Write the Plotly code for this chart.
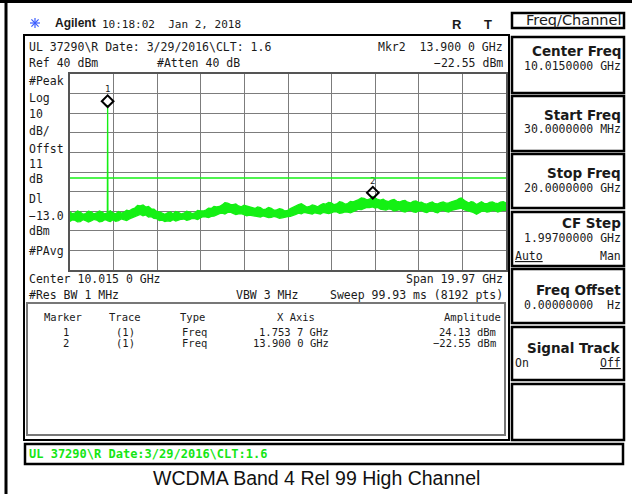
import plotly.graph_objects as go

# sweep points (GHz) with the upper / lower edge of the green noise band (dBm)
freq_ghz = [0.03, 0.125, 0.25, 0.375, 0.5, 0.625, 0.75, 0.875, 1.0, 1.125, 1.25, 1.375, 1.5, 1.625,
            1.74, 1.7537, 1.767, 1.875, 2.0, 2.125, 2.25, 2.375, 2.5, 2.625, 2.75, 2.875,
            3.0, 3.125, 3.25, 3.375, 3.5, 3.625, 3.75, 3.875, 4.0, 4.125, 4.25, 4.375, 4.5,
            4.625, 4.75, 4.875, 5.0, 5.125, 5.25, 5.375, 5.5, 5.625, 5.75, 5.875, 6.0, 6.125,
            6.25, 6.375, 6.5, 6.625, 6.75, 6.875, 7.0, 7.125, 7.25, 7.375, 7.5, 7.625, 7.75,
            7.875, 8.0, 8.125, 8.25, 8.375, 8.5, 8.625, 8.75, 8.875, 9.0, 9.125, 9.25, 9.375,
            9.5, 9.625, 9.75, 9.875, 10.0, 10.125, 10.25, 10.375, 10.5, 10.625, 10.75, 10.875,
            11.0, 11.125, 11.25, 11.375, 11.5, 11.625, 11.75, 11.875, 12.0, 12.125, 12.25,
            12.375, 12.5, 12.625, 12.75, 12.875, 13.0, 13.125, 13.25, 13.375, 13.5, 13.625,
            13.75, 13.9, 14.0, 14.125, 14.25, 14.375, 14.5, 14.625, 14.75, 14.875, 15.0,
            15.125, 15.25, 15.375, 15.5, 15.625, 15.75, 15.875, 16.0, 16.125, 16.25, 16.375,
            16.5, 16.625, 16.75, 16.875, 17.0, 17.125, 17.25, 17.375, 17.5, 17.625, 17.75,
            17.85, 17.95, 18.1, 18.2, 18.3, 18.4, 18.5, 18.65, 18.8, 18.875, 19.0, 19.125,
            19.25, 19.375, 19.5, 19.625, 19.75, 19.875, 20.0]
trace_upper = [-30.2, -31.3, -31.0, -29.9, -30.4, -31.5, -31.2, -30.0, -30.3, -31.4, -30.9, -29.9,
               -30.5, -31.4, -30.8, 24.13, -30.6, -29.8, -30.9, -31.3, -30.2, -31.0, -30.6, -29.5,
               -29.8, -28.9, -28.4, -27.1, -27.3, -26.8, -27.9, -27.6, -28.8, -29.0, -30.1, -30.4,
               -31.2, -31.6, -30.8, -30.4, -31.3, -30.2, -30.6, -31.4, -31.0, -30.0, -30.4, -31.2,
               -30.8, -29.6, -29.8, -29.9, -29.4, -28.5, -28.6, -27.6, -27.8, -27.6, -26.8, -25.6,
               -25.9, -26.5, -26.6, -26.3, -27.3, -27.8, -27.0, -27.4, -27.9, -28.3, -28.6, -27.8,
               -28.2, -29.2, -28.9, -28.1, -28.5, -29.5, -29.3, -28.7, -29.0, -29.9, -29.6, -28.7,
               -28.0, -27.0, -26.6, -26.2, -27.0, -27.9, -27.6, -26.8, -27.2, -27.8, -26.9, -26.2,
               -26.4, -25.5, -25.8, -26.7, -26.3, -25.2, -25.5, -26.4, -26.1, -25.0, -25.2, -24.7,
               -24.1, -23.2, -23.5, -24.2, -23.9, -22.55, -23.4, -24.0, -24.4, -23.9, -24.8, -25.1,
               -24.3, -24.0, -25.0, -25.3, -24.7, -24.5, -25.4, -25.8, -25.0, -24.8, -25.6, -25.4,
               -26.1, -26.4, -25.7, -25.3, -26.2, -26.3, -25.6, -25.3, -25.9, -25.8, -25.2, -24.9,
               -24.4, -23.6, -23.3, -24.6, -25.4, -25.8, -25.1, -25.4, -26.6, -25.7, -25.2, -26.0,
               -26.2, -25.5, -25.3, -25.9, -26.1, -25.4, -25.2, -25.8]
trace_lower = [-35.2, -34.5, -34.6, -35.4, -35.3, -34.3, -34.8, -35.5, -35.0, -34.2, -34.5, -35.4,
               -35.2, -34.3, -34.7, -34.7, -34.9, -35.3, -34.4, -35.1, -34.8, -33.9, -34.2, -34.8,
               -33.9, -33.4, -32.6, -32.4, -31.6, -32.3, -31.9, -33.0, -32.8, -33.7, -33.8, -34.8,
               -34.6, -35.3, -34.9, -35.1, -34.3, -35.0, -34.5, -34.1, -34.0, -34.7, -34.3, -33.7,
               -33.8, -34.3, -33.4, -32.8, -32.9, -33.3, -32.6, -32.5, -31.9, -31.2, -31.0, -31.4,
               -30.6, -30.5, -31.1, -31.7, -31.4, -31.2, -31.8, -32.4, -32.0, -32.2, -32.6, -32.9,
               -33.0, -32.4, -32.7, -33.3, -33.1, -32.6, -33.0, -33.6, -33.4, -32.9, -32.8, -32.6,
               -31.9, -31.6, -31.0, -31.3, -30.6, -31.0, -31.2, -31.5, -30.8, -31.0, -31.4, -30.6,
               -31.0, -31.2, -30.8, -30.2, -30.4, -31.1, -30.9, -30.3, -30.5, -30.8, -30.2, -29.6,
               -29.0, -29.2, -28.6, -28.1, -28.2, -27.8, -28.4, -28.1, -29.0, -29.3, -29.4, -28.8,
               -29.1, -29.9, -29.6, -29.2, -30.1, -30.4, -29.8, -29.5, -30.3, -30.6, -29.9, -29.6,
               -30.4, -30.7, -30.0, -29.7, -30.5, -30.8, -29.8, -29.5, -30.1, -30.4, -29.6, -29.2,
               -28.9, -28.8, -28.4, -29.3, -29.6, -30.2, -30.4, -30.6, -31.5, -30.4, -30.1, -29.8,
               -30.5, -30.2, -29.6, -29.7, -30.4, -30.0, -29.5, -29.6]

marker_labels = ['1', '2']
marker_freq_ghz = [1.7537, 13.9]
marker_amp_dbm = [24.13, -22.55]
display_line_dbm = -13.0

start_ghz = 0.03
stop_ghz = 20.0
ref_dbm = 40
db_div = 10

assert len(freq_ghz) == len(trace_upper) == len(trace_lower)

GREEN = '#14F014'
MONO = 'DejaVu Sans Mono'
SANS = 'Liberation Sans, Arial'
INK = '#1a1a1a'

# plot box in screen pixels
L, R, T, B = 70, 506, 74, 270


def px(x):
    return (x - L) / (R - L)


def py(y):
    return (B - y) / (B - T)


fig = go.Figure()

fig.add_trace(go.Scatter(x=freq_ghz, y=trace_lower, mode='lines',
                         line=dict(color=GREEN, width=1.3), hoverinfo='skip'))
fig.add_trace(go.Scatter(x=freq_ghz, y=trace_upper, mode='lines',
                         line=dict(color=GREEN, width=1.3), fill='tonexty',
                         fillcolor=GREEN, hoverinfo='skip'))

# marker diamonds sit a little above the point, like on the analyser
fig.add_trace(go.Scatter(x=marker_freq_ghz, y=[a + 2 for a in marker_amp_dbm],
                         mode='markers+text', text=marker_labels, textposition='top center',
                         textfont=dict(family=MONO, size=9, color=INK),
                         marker=dict(symbol='diamond-open', size=9, color='black',
                                     line=dict(width=2, color='black')),
                         hoverinfo='skip'))

fig.add_shape(type='line', xref='paper', yref='y', x0=0, x1=1,
              y0=display_line_dbm, y1=display_line_dbm,
              line=dict(color=GREEN, width=1.5), layer='above')


def txt(x, y, s, anchor='left', size=11.5, family=MONO, color=INK):
    fig.add_annotation(x=px(x), y=py(y), xref='paper', yref='paper', text=s,
                       showarrow=False, xanchor=anchor, yanchor='middle',
                       font=dict(family=family, size=size, color=color))


def box(x0, y0, x1, y1, color='black', width=2):
    fig.add_shape(type='rect', xref='paper', yref='paper',
                  x0=px(x0), x1=px(x1), y0=py(y0), y1=py(y1),
                  line=dict(color=color, width=width))


def seg(x0, y0, x1, y1, color='black', width=2):
    fig.add_shape(type='line', xref='paper', yref='paper',
                  x0=px(x0), x1=px(x1), y0=py(y0), y1=py(y1),
                  line=dict(color=color, width=width))


# outer frame (top and left only)
seg(0, 1.5, 632, 1.5, width=3)
seg(6, 0, 6, 494, width=3)

# header
for dx, dy in [(5, 0), (0, 5), (3.6, 3.6), (3.6, -3.6)]:
    seg(35 - dx, 23 - dy, 35 + dx, 23 + dy, color='#3a5cff', width=1.2)
txt(53, 23, '<b>Agilent</b>', size=12, family=SANS)
txt(100, 24, '10:18:02  Jan 2, 2018', size=11)
txt(457, 24, '<b>R</b>', anchor='center', size=13, family=SANS)
txt(488, 24, '<b>T</b>', anchor='center', size=13, family=SANS)
box(512, 13, 624, 28, width=2.5)
txt(623, 20.5, 'Freq/Channel', anchor='right', size=14.5, family='DejaVu Sans')

# screen frame
box(24, 35, 509, 440, width=2)
txt(27, 47, 'UL 37290\\R Date: 3/29/2016\\CLT: 1.6')
txt(505, 47, 'Mkr2  13.900 0 GHz', anchor='right')
txt(27, 63.5, 'Ref 40 dBm')
txt(155, 63.5, '#Atten 40 dB')
txt(505, 63.5, '\u221222.55 dBm', anchor='right')

left_labels = ['#Peak', 'Log', '10', 'dB/', 'Offst', '11', 'dB', 'Dl', '\u221213.0', 'dBm', '#PAvg']
left_y = [81, 97.5, 113.5, 131, 148.5, 164, 179, 199, 215.5, 231, 251]
for s, y in zip(left_labels, left_y):
    txt(27, y, s)

txt(27, 279, 'Center 10.015 0 GHz')
txt(505, 279, 'Span 19.97 GHz', anchor='right')
txt(27, 294.5, '#Res BW 1 MHz')
txt(234, 294.5, 'VBW 3 MHz')
txt(505, 294.5, 'Sweep 99.93 ms (8192 pts)', anchor='right')

# marker table
box(27, 303, 505, 435, color='#777777', width=2)
txt(63, 317, 'Marker', anchor='center', size=10.5)
txt(125, 317, 'Trace', anchor='center', size=10.5)
txt(192, 317, 'Type', anchor='center', size=10.5)
txt(296, 317, 'X Axis', anchor='center', size=10.5)
txt(472, 317, 'Amplitude', anchor='center', size=10.5)
for i, (lab, f, a) in enumerate(zip(marker_labels, marker_freq_ghz, marker_amp_dbm)):
    y = 331.5 + i * 11.5
    txt(66, y, lab, anchor='center', size=10.5)
    txt(125, y, '(1)', anchor='center', size=10.5)
    txt(194, y, 'Freq', anchor='center', size=10.5)
    fs = '%.4f' % f
    txt(331, y, fs[:-1] + ' ' + fs[-1] + ' GHz', anchor='right', size=10.5)
    txt(498, y, ('%.2f dBm' % a).replace('-', '\u2212'), anchor='right', size=10.5)

# softkeys
keys = [(37, 93, 'Center Freq', '10.0150000 GHz'),
        (96, 151, 'Start Freq', '30.0000000 MHz'),
        (154, 208, 'Stop Freq', '20.0000000 GHz'),
        (212, 266, 'CF Step', '1.99700000 GHz'),
        (269, 323, 'Freq Offset', '0.00000000  Hz'),
        (327, 380, 'Signal Track', ''),
        (384, 440, '', '')]
title_dy = [14, 18.5, 19, 11, 21, 20.5, 0]
for (top, bot, title, val), dy in zip(keys, title_dy):
    box(512, top, 624, bot, width=2.5)
    if title:
        txt(623, top + dy, '<b>' + title + '</b>', anchor='right', size=13.5, family='DejaVu Sans')
    if val:
        txt(623, top + dy + 14.5, val, anchor='right', size=11.5)
txt(513, 256, '<u>Auto</u>', size=11.5)
txt(623, 256, 'Man', anchor='right', size=11.5)
txt(513, 362.5, 'On', size=11.5)
txt(623, 362.5, '<u>Off</u>', anchor='right', size=11.5)

# status bar and caption
box(25, 444, 623, 464, width=2.5)
txt(27, 454, '<b>UL 37290\\R Date:3/29/2016\\CLT:1.6</b>', size=12, color='#14E614')
txt(316, 478.5, 'WCDMA Band 4 Rel 99 High Channel', anchor='center', size=19.5, family=SANS,
    color='#111111')

fig.update_xaxes(range=[start_ghz, stop_ghz], tick0=start_ghz, dtick=(stop_ghz - start_ghz) / 10,
                 showgrid=True, gridcolor='#7c7c7c', gridwidth=1.3, showticklabels=False,
                 zeroline=False, showline=True, linecolor='#555555', linewidth=2, mirror=True,
                 ticks='', fixedrange=True)
fig.update_yaxes(range=[ref_dbm - 10 * db_div, ref_dbm], dtick=db_div,
                 showgrid=True, gridcolor='#7c7c7c', gridwidth=1.3, showticklabels=False,
                 zeroline=False, showline=True, linecolor='#555555', linewidth=2, mirror=True,
                 ticks='', fixedrange=True)
fig.update_layout(width=632, height=494, autosize=False, showlegend=False,
                  margin=dict(l=L, r=632 - R, t=T, b=494 - B, pad=0),
                  plot_bgcolor='white', paper_bgcolor='white')
# the page's default body margin would push the figure 8px right/down
fig.write_html('out.html', config={'displayModeBar': False},
               post_script="document.body.style.margin='0';document.body.style.overflow='hidden';")
